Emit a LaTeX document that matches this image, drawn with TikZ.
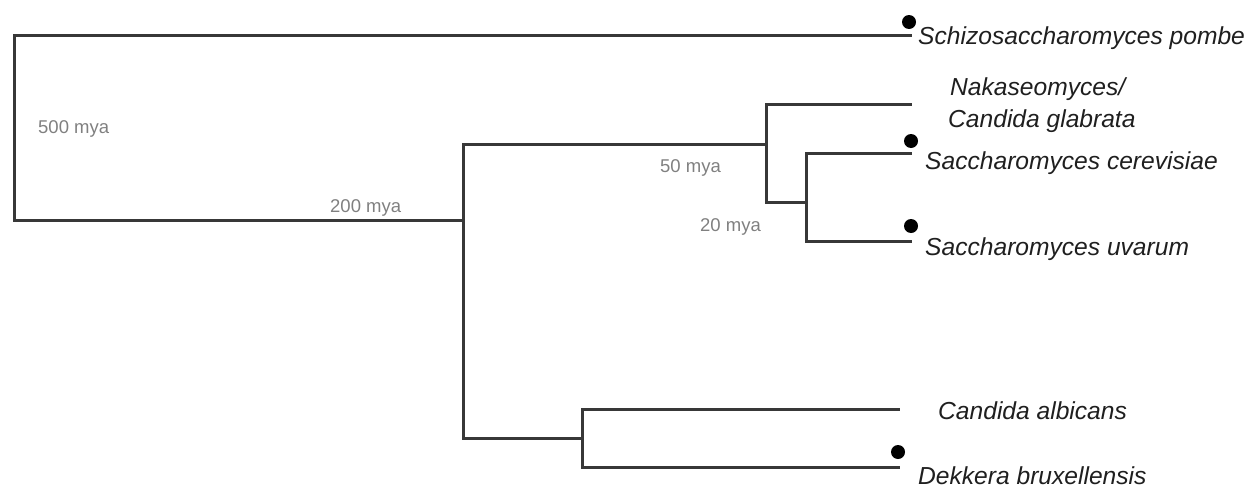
\documentclass[tikz,border=0pt]{standalone}
\usepackage{fontspec}
\setmainfont{Liberation Sans}
\begin{document}
\begin{tikzpicture}[x=1pt,y=-1pt,
  branch/.style={draw=black!78,line width=3pt,line join=miter,line cap=rect},
  species/.style={anchor=base west,inner sep=0pt,text=black!88,font=\fontsize{24.6}{30}\selectfont\itshape},
  age/.style={anchor=base west,inner sep=0pt,text=black!50,font=\fontsize{18.5}{22}\selectfont},
  tipdot/.style={circle,fill=black,inner sep=0pt,minimum size=14pt}]
\useasboundingbox (0,0) rectangle (1248,490);
% junctions and tips
\coordinate (root) at (14,220);
\coordinate (j1) at (463,220);
\coordinate (j2) at (766,144);
\coordinate (j3) at (806,202);
\coordinate (j4) at (582,438);
\coordinate (tpombe) at (910,35);
\coordinate (tnaka) at (910,104);
\coordinate (tcer) at (910,153);
\coordinate (tuva) at (910,241);
\coordinate (talb) at (898,409);
\coordinate (tdek) at (898,467);
% branches
\draw[branch] (root) |- (tpombe);
\draw[branch] (root) -- (j1);
\draw[branch] (j1) |- (j2);
\draw[branch] (j1) |- (j4);
\draw[branch] (j2) |- (tnaka);
\draw[branch] (j2) |- (j3);
\draw[branch] (j3) |- (tcer);
\draw[branch] (j3) |- (tuva);
\draw[branch] (j4) |- (talb);
\draw[branch] (j4) |- (tdek);
% dots
\node[tipdot] (dpombe) at (909,22) {};
\node[tipdot] (dcer) at (911,141) {};
\node[tipdot] (duva) at (911,226) {};
\node[tipdot] (ddek) at (898,452) {};
% species labels
\node[species] (lpombe) at (918,44) {Schizosaccharomyces pombe};
\node[species] (lnaka1) at (950,95) {Nakaseomyces/};
\node[species] (lnaka2) at (948,127) {Candida glabrata};
\node[species] (lcer) at (925,169) {Saccharomyces cerevisiae};
\node[species] (luva) at (925,255) {Saccharomyces uvarum};
\node[species] (lalb) at (938,419) {Candida albicans};
\node[species] (ldek) at (918,484) {Dekkera bruxellensis};
% ages
\node[age] (a500) at (38,133) {500 mya};
\node[age] (a200) at (330,212) {200 mya};
\node[age] (a50) at (660,172) {50 mya};
\node[age] (a20) at (700,231) {20 mya};
\end{tikzpicture}
\end{document}
